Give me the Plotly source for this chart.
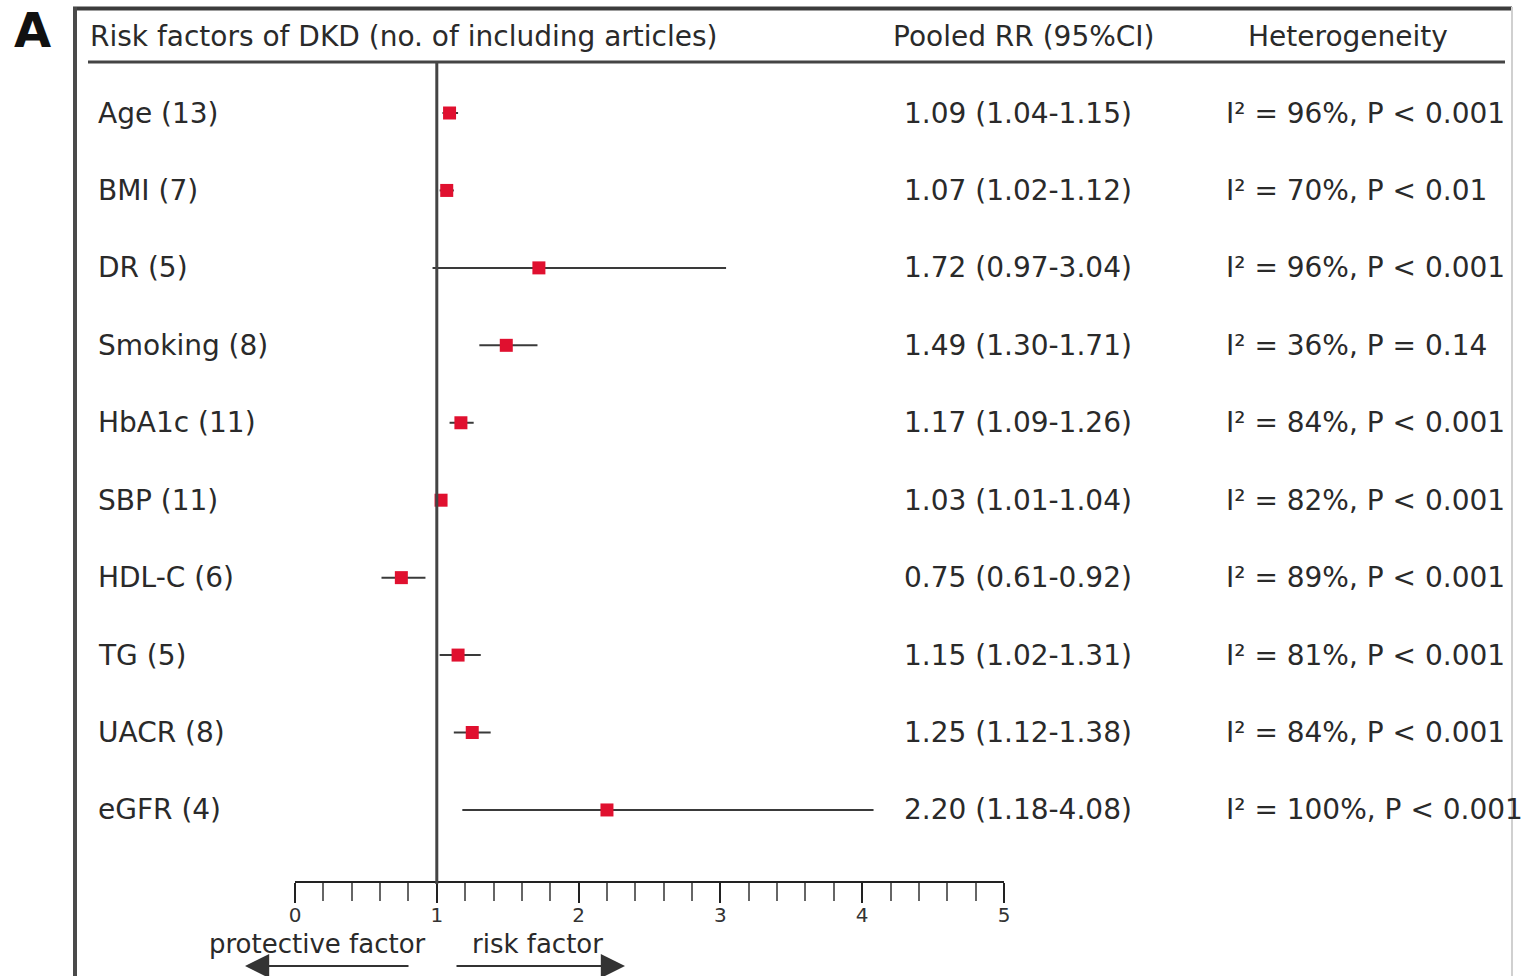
import plotly.graph_objects as go

# ---------------- data ----------------
factors = ["Age (13)", "BMI (7)", "DR (5)", "Smoking (8)", "HbA1c (11)",
           "SBP (11)", "HDL-C (6)", "TG (5)", "UACR (8)", "eGFR (4)"]
rr = [1.09, 1.07, 1.72, 1.49, 1.17, 1.03, 0.75, 1.15, 1.25, 2.20]
ci_low = [1.04, 1.02, 0.97, 1.30, 1.09, 1.01, 0.61, 1.02, 1.12, 1.18]
ci_high = [1.15, 1.12, 3.04, 1.71, 1.26, 1.04, 0.92, 1.31, 1.38, 4.08]
heterogeneity = ["I² = 96%, P < 0.001", "I² = 70%, P < 0.01", "I² = 96%, P < 0.001",
                 "I² = 36%, P = 0.14", "I² = 84%, P < 0.001", "I² = 82%, P < 0.001",
                 "I² = 89%, P < 0.001", "I² = 81%, P < 0.001", "I² = 84%, P < 0.001",
                 "I² = 100%, P < 0.001"]
x_ticks = [0, 1, 2, 3, 4, 5]

# ---------------- layout helpers ----------------
W, H = 1524, 976
FONT = "DejaVu Sans"
TXT = "#2a2a2a"


def px_x(p):
    return p / W


def px_y(p):
    return 1 - p / H


rows = list(range(len(factors)))
row_top_px, row_step_px = 113.0, 77.44
y_lo = -row_top_px / row_step_px
y_hi = (H - row_top_px) / row_step_px

fig = go.Figure()

fig.add_trace(go.Scatter(
    x=rr, y=rows, mode="markers",
    marker=dict(symbol="square", size=13, color="#e0102f"),
    error_x=dict(type="data", symmetric=False,
                 array=[h - r for h, r in zip(ci_high, rr)],
                 arrayminus=[r - l for r, l in zip(rr, ci_low)],
                 thickness=2, width=0, color="#3a3a3a"),
    showlegend=False, hoverinfo="skip",
))

annotations = []
# panel letter
annotations.append(dict(text="<b>A</b>", x=px_x(12), y=1, xref="paper", yref="paper",
                        xanchor="left", yanchor="top", showarrow=False,
                        font=dict(family=FONT, size=48, color="#111")))
# headers
hdr_font = dict(family=FONT, size=28, color=TXT)
annotations.append(dict(text="Risk factors of DKD (no. of including articles)", x=px_x(88), y=px_y(37),
                        xref="paper", yref="paper", xanchor="left", yanchor="middle",
                        showarrow=False, font=hdr_font))
annotations.append(dict(text="Pooled RR (95%CI)", x=px_x(1024), y=px_y(37),
                        xref="paper", yref="paper", xanchor="center", yanchor="middle",
                        showarrow=False, font=hdr_font))
annotations.append(dict(text="Heterogeneity", x=px_x(1348), y=px_y(37),
                        xref="paper", yref="paper", xanchor="center", yanchor="middle",
                        showarrow=False, font=hdr_font))

row_font = dict(family=FONT, size=28, color=TXT)
for i, (name, r, lo, hi, het) in enumerate(zip(factors, rr, ci_low, ci_high, heterogeneity)):
    annotations.append(dict(text=name, x=px_x(96), y=i, xref="paper", yref="y",
                            xanchor="left", yanchor="middle", showarrow=False, font=row_font))
    annotations.append(dict(text=f"{r:.2f} ({lo:.2f}-{hi:.2f})", x=px_x(1134), y=i,
                            xref="paper", yref="y", xanchor="right", yanchor="middle",
                            showarrow=False, font=row_font))
    annotations.append(dict(text=het, x=px_x(1224), y=i, xref="paper", yref="y",
                            xanchor="left", yanchor="middle", showarrow=False, font=row_font))

# bottom labels
annotations.append(dict(text="protective factor", x=px_x(317), y=px_y(944), xref="paper", yref="paper",
                        xanchor="center", yanchor="middle", showarrow=False,
                        font=dict(family=FONT, size=26, color=TXT)))
annotations.append(dict(text="risk factor", x=px_x(537), y=px_y(944), xref="paper", yref="paper",
                        xanchor="center", yanchor="middle", showarrow=False,
                        font=dict(family=FONT, size=26, color=TXT)))
# arrows
annotations.append(dict(text="", x=px_x(245), y=px_y(966), xref="paper", yref="paper",
                        ax=165, ay=0, axref="pixel", ayref="pixel", showarrow=True,
                        arrowhead=2, arrowsize=2.2, arrowwidth=2.2, arrowcolor="#333"))
annotations.append(dict(text="", x=px_x(625), y=px_y(966), xref="paper", yref="paper",
                        ax=-170, ay=0, axref="pixel", ayref="pixel", showarrow=True,
                        arrowhead=2, arrowsize=2.2, arrowwidth=2.2, arrowcolor="#333"))

shapes = [
    # frame top & left
    dict(type="line", xref="paper", yref="paper", x0=px_x(73), x1=px_x(1512), y0=px_y(8.5), y1=px_y(8.5),
         line=dict(color="#3c3c3c", width=4)),
    dict(type="line", xref="paper", yref="paper", x0=px_x(75), x1=px_x(75), y0=px_y(7), y1=px_y(980),
         line=dict(color="#4a4a4a", width=4)),
    dict(type="line", xref="paper", yref="paper", x0=px_x(1512), x1=px_x(1512), y0=px_y(7), y1=px_y(980),
         line=dict(color="#d0d0d0", width=2)),
    # header rule
    dict(type="line", xref="paper", yref="paper", x0=px_x(88), x1=px_x(1505), y0=px_y(62), y1=px_y(62),
         line=dict(color="#444", width=3)),
    # null line at RR = 1
    dict(type="line", xref="x", yref="paper", x0=1, x1=1, y0=px_y(884), y1=px_y(62),
         line=dict(color="#444", width=3)),
]

fig.update_layout(
    width=W, height=H, autosize=False,
    margin=dict(l=0, r=0, t=0, b=0, pad=0, autoexpand=False),
    paper_bgcolor="white", plot_bgcolor="white",
    annotations=annotations, shapes=shapes,
    xaxis=dict(domain=[px_x(295), px_x(1004)], range=[0, 5], anchor="free", position=px_y(882),
               tickvals=x_ticks, ticktext=[str(t) for t in x_ticks], automargin=False,
               showline=True, linecolor="#222", linewidth=2,
               ticks="outside", ticklen=20, tickwidth=2, tickcolor="#222",
               minor=dict(dtick=0.2, ticks="outside", ticklen=18, tickwidth=1.5, tickcolor="#666"),
               showgrid=False, zeroline=False, fixedrange=True, ticklabelstandoff=-5,
               tickfont=dict(family=FONT, size=20, color="#333")),
    yaxis=dict(range=[y_hi, y_lo], visible=False, showgrid=False, zeroline=False, fixedrange=True,
               automargin=False),
)

fig.write_html("out.html",
               post_script="document.body.style.margin='0';document.body.style.padding='0';")
